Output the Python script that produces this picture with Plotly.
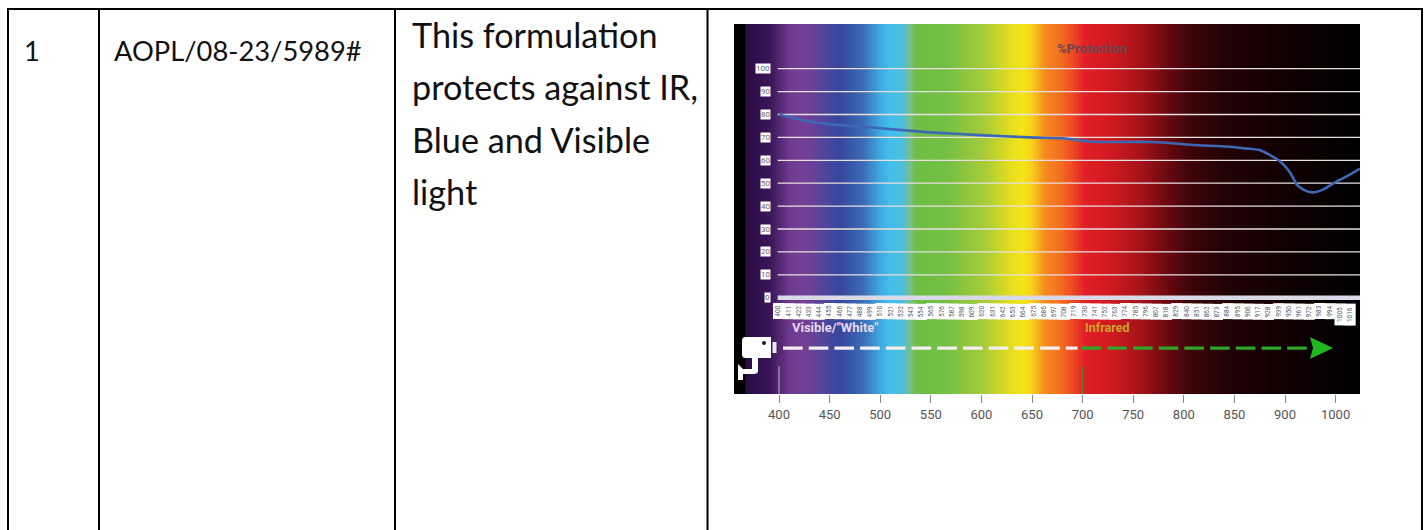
import plotly.graph_objects as go

W, H = 1427, 530

# ---------- data ----------
wavelengths_bg = [355.5, 366.4, 367.4, 391.1, 410.9, 425.7, 445.5, 460.3, 483, 499.8, 509.7, 522.5, 529.4, 535.4, 564, 603.6,
                  628.3, 640.1, 650, 662.8, 677.7, 689.5, 702.4, 727, 756.7, 781.4, 806, 840.7, 895, 974]
colors_bg = ["#000000", "#000000", "#2a0d45", "#3a1558", "#6e3a8e", "#753f96", "#4f469b", "#37469f", "#3a6cb3", "#3fa8e0", "#42bfec",
             "#4bbfdc", "#7abf8a", "#6fbe44", "#72bf44", "#a8cb38", "#e2de1e", "#f5e616", "#f7cf1a", "#f58a1f", "#f2701f", "#ee4b24",
             "#e01f26", "#d21a20", "#a5141a", "#6e0a10", "#3d0408", "#220205", "#120003", "#000000"]

curve_x = [400, 428, 455, 509, 563, 617, 670, 706, 738, 803, 846, 883, 902, 918, 940, 951, 958, 965, 975, 986, 1001, 1015, 1026]
curve_y = [80, 77.3, 75.8, 74, 72.2, 71, 70, 69.6, 68.1, 68, 66.7, 66, 65.2, 64.5, 59.5, 54.5, 49.4, 47.2, 46, 47.2, 50.8, 53.7, 56.4]

y_ticks = [0, 10, 20, 30, 40, 50, 60, 70, 80, 90, 100]
cat_ticks = [400 + 11 * i for i in range(58)]
x_tick_pos = [400, 450, 500, 550, 600, 650, 700, 750, 800, 850, 900, 950]
x_tick_text = ["400", "450", "500", "550", "600", "650", "700", "750", "800", "850", "900", "1000"]

col_lines = [8, 99, 395, 707.5, 1422]
cell_texts = [("1", 22, 51), ("AOPL/08-23/5989#", 112, 51)]
para = ["This formulation", "protects against IR,", "Blue and Visible", "light"]

X0, X1 = 734, 1360
Y0, Y1 = 24, 394
XMIN = 400 + (X0 - 779) / 1.012
XMAX = 400 + (X1 - 779) / 1.012
X2MIN = 400 + (X0 - 779) / 0.928
X2MAX = 400 + (X1 - 779) / 0.928
YMIN = 0 - (Y1 - 297.7) / 2.29
YMAX = 100 + (68.7 - Y0) / 2.29


def px(x):
    return x / W


def py(y):
    return 1 - y / H


fig = go.Figure()

# spectrum
grid = [wavelengths_bg[0] + i * (wavelengths_bg[-1] - wavelengths_bg[0]) / 700 for i in range(701)]
span = wavelengths_bg[-1] - wavelengths_bg[0]
colorscale = [[(w - wavelengths_bg[0]) / span, c] for w, c in zip(wavelengths_bg, colors_bg)]
fig.add_trace(go.Heatmap(x=grid, y=[YMIN, YMAX], z=[grid, grid], colorscale=colorscale, showscale=False, hoverinfo="skip"))

# gridlines
for v in y_ticks:
    fig.add_trace(go.Scatter(x=[398.7, XMAX], y=[v, v], mode="lines", hoverinfo="skip", showlegend=False,
                             line=dict(color="#d9d9e8" if v == 0 else "#e8dfe0", width=4.5 if v == 0 else 1.3)))

# curve on the inner category scale
fig.add_trace(go.Scatter(x=curve_x, y=curve_y, mode="lines", showlegend=False, xaxis="x2",
                         line=dict(color="#3f68b4", width=2.6, shape="spline", smoothing=0.6)))

shapes = []
annos = []

# table
shapes.append(dict(type="line", xref="paper", yref="paper", x0=px(7), x1=px(1423), y0=py(9), y1=py(9),
                   line=dict(color="#000000", width=2), layer="above"))
for x in col_lines:
    shapes.append(dict(type="line", xref="paper", yref="paper", x0=px(x), x1=px(x), y0=py(9), y1=py(530),
                       line=dict(color="#000000", width=2), layer="above"))
for t, x, y in cell_texts:
    annos.append(dict(text=t, xref="paper", yref="paper", x=px(x), y=py(y), xanchor="left", yanchor="middle",
                      showarrow=False, font=dict(family="Lato", size=27.3, color="#111111")))
for i, t in enumerate(para):
    annos.append(dict(text=t, xref="paper", yref="paper", x=px(410), y=py(35 + i * 52), xanchor="left", yanchor="middle",
                      showarrow=False, font=dict(family="Lato", size=34.2, color="#111111")))

# y value labels
for v in y_ticks:
    annos.append(dict(text=str(v), x=392, y=v, xref="x", yref="y", xanchor="right", yanchor="middle", showarrow=False,
                      font=dict(family="Roboto", size=8, color="#666666"),
                      bgcolor="#ffffff", borderpad=0))
# category labels
for v in cat_ticks:
    annos.append(dict(text=str(v), x=v, y=-2.3, xref="x2", yref="y", xanchor="center", yanchor="top", textangle=-90, showarrow=False,
                      width=21 if v >= 1000 else 15, height=9.6, align="center",
                      font=dict(family="Roboto", size=6.5, color="#556070"),
                      bgcolor="#ffffff", borderpad=0))

annos.append(dict(text="%Protection", x=672.7, y=109, xref="x", yref="y", xanchor="left", yanchor="middle", showarrow=False,
                  font=dict(family="Roboto", size=13, color="#6a4650", weight="bold")))
annos.append(dict(text="Visible/\"White\"", x=411, y=-13.2, xref="x", yref="y", xanchor="left", yanchor="middle", showarrow=False,
                  font=dict(family="Roboto", size=13, color="#e6d8ee", weight="bold")))
annos.append(dict(text="Infrared", x=700, y=-13.2, xref="x", yref="y", xanchor="left", yanchor="middle", showarrow=False,
                  font=dict(family="Roboto", size=12.5, color="#c9a32a", weight="bold")))

# dashed arrows
fig.add_trace(go.Scatter(x=[404, 695], y=[-22, -22], mode="lines", showlegend=False, hoverinfo="skip",
                         line=dict(color="#f5eef2", width=3.4, dash="19.6px 6.1px")))
fig.add_trace(go.Scatter(x=[699, 922], y=[-22, -22], mode="lines", showlegend=False, hoverinfo="skip",
                         line=dict(color="#2fa52a", width=3.4, dash="19.6px 6.1px")))
shapes.append(dict(type="path", xref="paper", yref="paper", fillcolor="#1fb71f", line=dict(width=0), layer="above",
                   path=f"M{px(1310)},{py(337)} L{px(1333)},{py(348)} L{px(1310)},{py(359)} L{px(1313)},{py(348)} Z"))

# camera pictogram
shapes.append(dict(type="path", xref="paper", yref="paper", fillcolor="#ffffff", line=dict(width=0), layer="above",
                   path=f"M{px(745)},{py(337)} L{px(771)},{py(337)} L{px(771)},{py(358)} L{px(758)},{py(358)} "
                        f"L{px(758)},{py(371)} Q{px(758)},{py(374)} {px(754)},{py(374)} L{px(743)},{py(374)} L{px(743)},{py(380)} "
                        f"L{px(738)},{py(380)} L{px(738)},{py(364)} L{px(743)},{py(369)} L{px(752)},{py(369)} L{px(752)},{py(358)} "
                        f"L{px(745)},{py(358)} Q{px(742)},{py(358)} {px(742)},{py(354)} L{px(742)},{py(341)} Q{px(742)},{py(337)} {px(745)},{py(337)} Z"))
shapes.append(dict(type="rect", xref="paper", yref="paper", x0=px(772.5), x1=px(776.5), y0=py(342), y1=py(353),
                   fillcolor="#efe6f2", line=dict(width=0), layer="above"))
shapes.append(dict(type="circle", xref="paper", yref="paper", x0=px(762), x1=px(766), y0=py(341), y1=py(345),
                   fillcolor="#221030", line=dict(width=0), layer="above"))

# 400 and 700 leaders
fig.add_trace(go.Scatter(x=[400, 400], y=[-30, YMIN], mode="lines", showlegend=False, hoverinfo="skip",
                         line=dict(color="#c8b8d0", width=1)))
fig.add_trace(go.Scatter(x=[700, 700], y=[-30, YMIN], mode="lines", showlegend=False, hoverinfo="skip",
                         line=dict(color="#5a8a2a", width=1)))

fig.update_layout(
    width=W, height=H, margin=dict(l=0, r=0, t=0, b=0), paper_bgcolor="#ffffff", plot_bgcolor="#ffffff",
    showlegend=False, shapes=shapes, annotations=annos,
    xaxis=dict(domain=[px(X0), px(X1)], range=[XMIN, XMAX], tickmode="array", tickvals=x_tick_pos, ticktext=x_tick_text,
               ticks="outside", ticklen=8, tickcolor="#8a8a8a", tickwidth=1, showgrid=False, zeroline=False, showline=False,
               tickfont=dict(family="Roboto", size=13, color="#555555")),
    xaxis2=dict(domain=[px(X0), px(X1)], range=[X2MIN, X2MAX], overlaying="x", side="top", visible=False),
    yaxis=dict(domain=[py(Y1), py(Y0)], range=[YMIN, YMAX], showticklabels=False, ticks="", showgrid=False, zeroline=False),
)
fig.write_html("out.html", config={"displayModeBar": False}, post_script="document.body.style.margin='0';")
